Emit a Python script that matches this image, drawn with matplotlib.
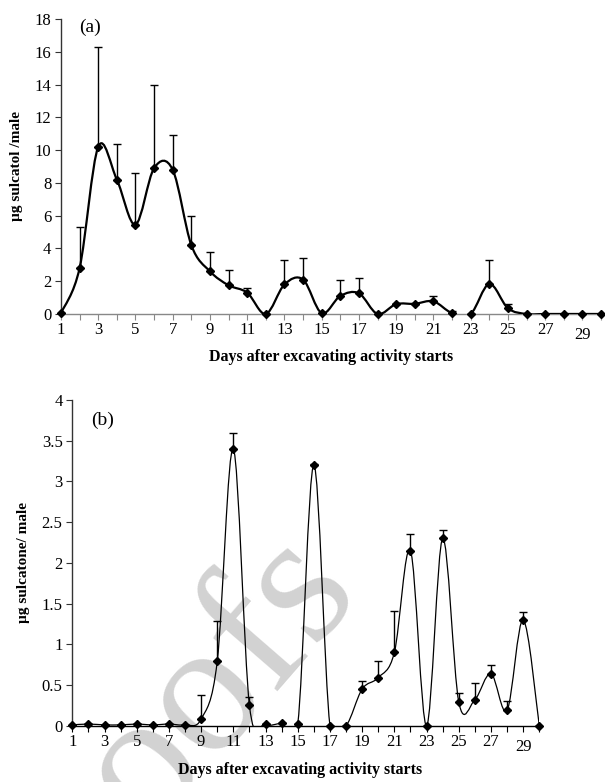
import numpy as np
import matplotlib.pyplot as plt
from matplotlib.path import Path
from matplotlib.patches import PathPatch

plt.rcParams['font.family'] = ['Liberation Serif', 'DejaVu Serif']

days = list(range(1, 31))

# panel (a) sulcatol, mean and top of error bar
sulcatol = [0.05, 2.8, 10.2, 8.2, 5.45, 8.9, 8.8, 4.2, 2.6, 1.75,
            1.3, 0.0, 1.8, 2.1, 0.05, 1.1, 1.26, 0.0, 0.6, 0.62,
            0.77, 0.05, 0.0, 1.83, 0.35, 0.0, 0.0, 0.0, 0.0, 0.0]
sulcatol_top = [0.05, 5.3, 16.3, 10.4, 8.6, 14.0, 10.9, 6.0, 3.8, 2.7,
                1.6, 0.0, 3.3, 3.4, 0.05, 2.1, 2.2, 0.0, 0.6, 0.62,
                1.1, 0.2, 0.0, 3.3, 0.6, 0.0, 0.0, 0.0, 0.0, 0.0]

# panel (b) sulcatone
sulcatone = [0.01, 0.02, 0.01, 0.01, 0.02, 0.01, 0.02, 0.01, 0.08, 0.79,
             3.40, 0.25, 0.02, 0.03, 0.02, 3.20, 0.0, 0.0, 0.45, 0.59,
             0.90, 2.15, 0.0, 2.30, 0.29, 0.32, 0.64, 0.19, 1.30, 0.0]
sulcatone_top = [0.01, 0.02, 0.01, 0.01, 0.02, 0.01, 0.02, 0.01, 0.38, 1.29,
                 3.60, 0.35, 0.02, 0.03, 0.02, 3.22, 0.0, 0.0, 0.55, 0.80,
                 1.41, 2.35, 0.0, 2.40, 0.40, 0.53, 0.75, 0.30, 1.40, 0.0]


def smooth_path(x, y):
    # excel-like smoothed line as bezier segments through the data points
    x = np.asarray(x, float)
    y = np.asarray(y, float)
    pts = np.column_stack([x, y])
    ext = np.vstack([pts[0], pts, pts[-1]])
    verts = [pts[0]]
    codes = [Path.MOVETO]
    for i in range(len(pts) - 1):
        p0, p1, p2, p3 = ext[i], ext[i + 1], ext[i + 2], ext[i + 3]
        c1 = p1 + (p2 - p0) / 6.0
        c2 = p2 - (p3 - p1) / 6.0
        verts += [c1, c2, p2]
        codes += [Path.CURVE4] * 3
    return Path(verts, codes)


def panel(ax, y, top, lw, col_axis, ymax, ystep):
    ax.add_patch(PathPatch(smooth_path(days, y), facecolor='none',
                           edgecolor='black', lw=lw, zorder=3))
    err = np.array(top) - np.array(y)
    ax.errorbar(days, y, yerr=[np.zeros(len(err)), err], fmt='none',
                ecolor='black', elinewidth=1, capsize=3, capthick=1, zorder=2)
    ax.plot(days, y, linestyle='none', marker='D', markersize=4.5,
            color='black', zorder=4, clip_on=False)
    ax.set_xlim(1, 30)
    ax.set_ylim(0, ymax)
    ax.set_yticks(np.arange(0, ymax + 0.001, ystep))
    ax.yaxis.set_major_formatter(plt.FormatStrFormatter('%g'))
    ax.set_xticks(days)
    ax.set_xticklabels([str(d) if d % 2 == 1 else '' for d in days])
    for lab in ax.get_xticklabels():
        if lab.get_text() == '29':
            lab.set_y(-0.016)
    ax.spines['top'].set_visible(False)
    ax.spines['right'].set_visible(False)
    ax.spines['left'].set_color('#333333')
    ax.spines['bottom'].set_color(col_axis)
    ax.tick_params(axis='x', direction='out', length=4, color=col_axis,
                   labelsize=12, pad=2)
    ax.tick_params(axis='y', direction='out', length=4, color='#333333',
                   labelsize=12, pad=3)
    for s in ax.spines.values():
        s.set_linewidth(1)
    ax.patch.set_alpha(0)


fig = plt.figure(figsize=(6.05, 7.82), dpi=100)

# watermark
fig.text(165 / 605, 1 - 745 / 782, 'Proofs', fontsize=135, color='#d2d2d2',
         rotation=49, ha='center', va='center', zorder=-1,
         family='Liberation Serif')

ax1 = fig.add_axes([0.1008, 0.5985, 0.8926, 0.3772])
panel(ax1, sulcatol, sulcatol_top, 1.6, '#888888', 18, 2)
ax1.text(2.0, 17.5, '(a)', fontsize=14, ha='left', va='center')
ax1.set_ylabel('µg sulcatol /male', fontsize=11, fontweight='bold', labelpad=8)
fig.text(331 / 605, 1 - 357 / 782, 'Days after excavating activity starts',
         fontsize=11.5, fontweight='bold', ha='center', va='center')

ax2 = fig.add_axes([0.1195, 0.0720, 0.7719, 0.4165])
panel(ax2, sulcatone, sulcatone_top, 0.9, 'black', 4, 0.5)
ax2.text(2.15, 3.75, '(b)', fontsize=14, ha='left', va='center')
ax2.set_ylabel('µg sulcatone/ male', fontsize=11, fontweight='bold', labelpad=8)
fig.text(300 / 605, 1 - 770 / 782, 'Days after excavating activity starts',
         fontsize=11.5, fontweight='bold', ha='center', va='center')

plt.savefig('out.png', dpi=100)
plt.close()
